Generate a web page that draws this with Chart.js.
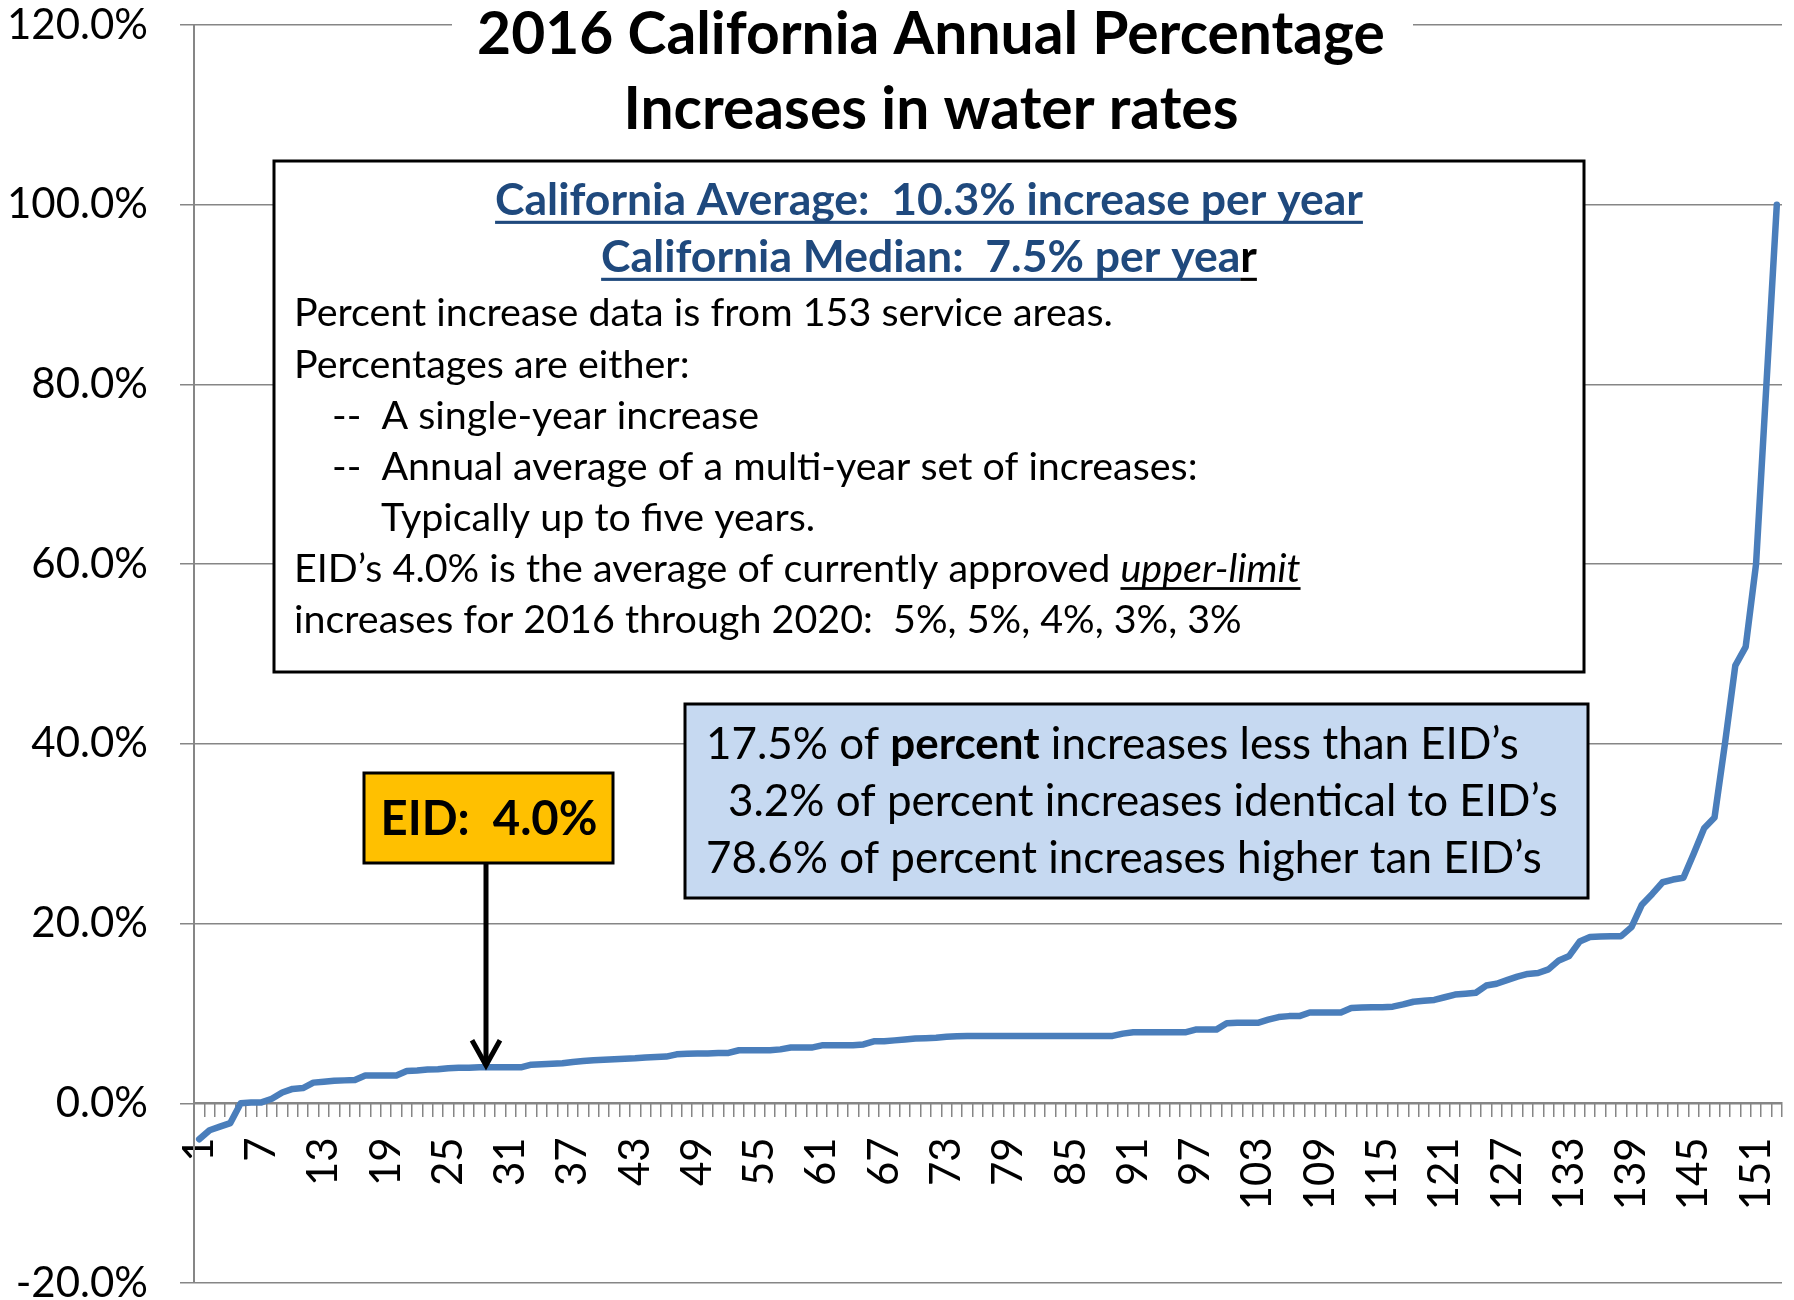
<!DOCTYPE html>
<html>
<head>
<meta charset="utf-8">
<title>2016 California Annual Percentage Increases in water rates</title>
<script src="https://cdn.jsdelivr.net/npm/chart.js@4.4.1/dist/chart.umd.min.js"></script>
<style>
  html, body { margin: 0; padding: 0; background: #fff; }
  #chart { display: block; }
</style>
</head>
<body>
<canvas id="chart" width="1794" height="1300"></canvas>
<script>
const FONT = 'Lato, "Open Sans", sans-serif';

// service areas 1..153, sorted by annual increase (percent)
const categories = [];
for (let i = 1; i <= 153; i++) categories.push(String(i));

const tickLabels = ['1', '7', '13', '19', '25', '31', '37', '43', '49', '55', '61', '67', '73', '79',
  '85', '91', '97', '103', '109', '115', '121', '127', '133', '139', '145', '151'];

const yTicks = [-20, 0, 20, 40, 60, 80, 100, 120];

const increases = [
  -4.0, -3.0, -2.6, -2.2, 0.0, 0.1, 0.1, 0.5, 1.2, 1.6,
  1.7, 2.3, 2.4, 2.5, 2.55, 2.6, 3.1, 3.1, 3.1, 3.1,
  3.6, 3.65, 3.75, 3.8, 3.9, 3.95, 3.95, 4.0, 4.0, 4.0,
  4.0, 4.0, 4.3, 4.35, 4.4, 4.45, 4.6, 4.7, 4.8, 4.85,
  4.9, 4.95, 5.0, 5.1, 5.15, 5.2, 5.45, 5.5, 5.55, 5.55,
  5.6, 5.6, 5.9, 5.9, 5.9, 5.9, 6.0, 6.2, 6.2, 6.2,
  6.45, 6.45, 6.45, 6.45, 6.55, 6.9, 6.9, 7.0, 7.1, 7.2,
  7.25, 7.3, 7.4, 7.45, 7.5, 7.5, 7.5, 7.5, 7.5, 7.5,
  7.5, 7.5, 7.5, 7.5, 7.5, 7.5, 7.5, 7.5, 7.5, 7.75,
  7.9, 7.9, 7.9, 7.9, 7.9, 7.9, 8.2, 8.2, 8.2, 8.9,
  8.95, 8.95, 8.95, 9.3, 9.6, 9.7, 9.7, 10.1, 10.1, 10.1,
  10.1, 10.6, 10.65, 10.7, 10.7, 10.75, 11.0, 11.3, 11.4, 11.5,
  11.8, 12.1, 12.2, 12.3, 13.1, 13.3, 13.7, 14.1, 14.4, 14.5,
  14.9, 15.9, 16.4, 18.0, 18.5, 18.55, 18.6, 18.6, 19.6, 22.1,
  23.3, 24.6, 24.9, 25.1, 27.8, 30.6, 31.8, 40.0, 48.7, 50.8,
  60.0, 80.0, 100.0
];

const eidValue = 4.0;

// font size so that text gets the wanted width
function fitSize(ctx, text, style, target) {
  ctx.font = style + ' 100px ' + FONT;
  return 100 * target / ctx.measureText(text).width;
}

// draws pieces [text, style, color, underline] one after another
function drawRun(ctx, pieces, x, y, size) {
  pieces.forEach(p => {
    ctx.font = p[1] + ' ' + size + 'px ' + FONT;
    ctx.fillStyle = p[2];
    ctx.fillText(p[0], x, y);
    const w = ctx.measureText(p[0]).width;
    if (p[3]) {
      ctx.fillStyle = p[3];
      ctx.fillRect(x, y + size * 0.13, w, Math.max(2, size * 0.07));
    }
    x += w;
  });
  return x;
}

function runWidth(ctx, pieces, size) {
  let w = 0;
  pieces.forEach(p => {
    ctx.font = p[1] + ' ' + size + 'px ' + FONT;
    w += ctx.measureText(p[0]).width;
  });
  return w;
}

const annotations = {
  id: 'annotations',
  afterDraw(chart) {
    const ctx = chart.ctx;
    const y = chart.scales.y;
    ctx.save();
    ctx.textBaseline = 'alphabetic';
    ctx.textAlign = 'left';

    // title with white background over the top gridline
    ctx.fillStyle = '#fff';
    ctx.fillRect(452, 4, 961, 142);
    const t1 = '2016 California Annual Percentage';
    const t2 = 'Increases in water rates';
    const ts = fitSize(ctx, t1, 'bold', 908);
    ctx.font = 'bold ' + ts + 'px ' + FONT;
    ctx.fillStyle = '#000';
    ctx.textAlign = 'center';
    ctx.fillText(t1, 931, 54);
    ctx.fillText(t2, 931, 129);
    ctx.textAlign = 'left';

    // main note box
    ctx.fillStyle = '#fff';
    ctx.fillRect(274, 161, 1310, 511);
    ctx.lineWidth = 3;
    ctx.strokeStyle = '#000';
    ctx.strokeRect(274, 161, 1310, 511);

    const blue = '#1F497D';
    const head1 = [['California Average:  10.3% increase per year', 'bold', blue, blue]];
    const head2 = [['California Median:  7.5% per yea', 'bold', blue, blue], ['r', 'bold', '#000', '#000']];
    const hs = fitSize(ctx, head1[0][0], 'bold', 868);
    drawRun(ctx, head1, 929 - runWidth(ctx, head1, hs) / 2, 215, hs);
    drawRun(ctx, head2, 929 - runWidth(ctx, head2, hs) / 2, 272, hs);

    const bs = fitSize(ctx, 'Percent increase data is from 153 service areas.', 'normal', 819);
    const body = [
      [294, 326, [['Percent increase data is from 153 service areas.', 'normal', '#000']]],
      [294, 378, [['Percentages are either:', 'normal', '#000']]],
      [332, 429, [['--  A single-year increase', 'normal', '#000']]],
      [332, 480, [['--  Annual average of a multi-year set of increases:', 'normal', '#000']]],
      [381, 531, [['Typically up to five years.', 'normal', '#000']]],
      [294, 582, [['EID’s 4.0% is the average of currently approved ', 'normal', '#000'],
                  ['upper-limit', 'italic', '#000', '#000']]],
      [294, 633, [['increases for 2016 through 2020:  5%, 5%, 4%, 3%, 3%', 'normal', '#000']]]
    ];
    body.forEach(l => drawRun(ctx, l[2], l[0], l[1], bs));

    // comparison box
    ctx.fillStyle = '#C6D9F1';
    ctx.fillRect(685, 704, 903, 194);
    ctx.strokeRect(685, 704, 903, 194);
    const cs = fitSize(ctx, '78.6% of percent increases higher tan EID’s', 'normal', 836);
    drawRun(ctx, [['17.5% of ', 'normal', '#000'], ['percent', 'bold', '#000'],
      [' increases less than EID’s', 'normal', '#000']], 706, 759, cs);
    drawRun(ctx, [['3.2% of percent increases identical to EID’s', 'normal', '#000']], 728, 816, cs);
    drawRun(ctx, [['78.6% of percent increases higher tan EID’s', 'normal', '#000']], 706, 873, cs);

    // EID label and arrow
    ctx.fillStyle = '#FFC000';
    ctx.fillRect(364, 773, 249, 90);
    ctx.strokeRect(364, 773, 249, 90);
    const es = fitSize(ctx, 'EID:  4.0%', 'bold', 217);
    ctx.font = 'bold ' + es + 'px ' + FONT;
    ctx.fillStyle = '#000';
    ctx.textAlign = 'center';
    ctx.fillText('EID:  4.0%', 489, 835);

    const ax = 486;
    const tip = y.getPixelForValue(eidValue) - 2;
    ctx.lineWidth = 5;
    ctx.lineCap = 'butt';
    ctx.beginPath();
    ctx.moveTo(ax, 864);
    ctx.lineTo(ax, tip);
    ctx.stroke();
    ctx.beginPath();
    ctx.moveTo(ax - 14, tip - 25);
    ctx.lineTo(ax, tip);
    ctx.lineTo(ax + 14, tip - 25);
    ctx.stroke();
    ctx.restore();
  }
};

const ctx = document.getElementById('chart').getContext('2d');
new Chart(ctx, {
  type: 'line',
  data: {
    labels: categories,
    datasets: [{
      data: increases,
      borderColor: '#4A7EBB',
      borderWidth: 6.5,
      pointRadius: 0,
      tension: 0,
      borderCapStyle: 'round',
      borderJoinStyle: 'round',
      clip: false
    }]
  },
  options: {
    responsive: false,
    animation: false,
    devicePixelRatio: 1,
    layout: { padding: { top: 25, right: 12, bottom: 17, left: 0 } },
    plugins: {
      legend: { display: false },
      tooltip: { enabled: false },
      title: { display: false }
    },
    scales: {
      x: {
        type: 'category',
        offset: true,
        position: { y: 0 },
        afterFit: function (scale) {
          scale.paddingLeft = 0;
          scale.paddingRight = 0;
          scale.paddingTop = 0;
          scale.paddingBottom = 0;
        },
        grid: {
          offset: true,
          drawOnChartArea: false,
          tickLength: 13,
          color: '#868686',
          lineWidth: 1.5
        },
        border: { color: '#868686', width: 2 },
        ticks: {
          autoSkip: false,
          minRotation: 90,
          maxRotation: 90,
          padding: 21,
          color: '#000',
          font: { family: FONT, size: 42 },
          callback: function (value, index) {
            const label = categories[index];
            return tickLabels.includes(label) ? label : '';
          }
        }
      },
      y: {
        min: -20,
        max: 120,
        afterFit: function (scale) {
          scale.width = 194;
          scale.paddingTop = 0;
          scale.paddingBottom = 0;
        },
        afterBuildTicks: function (scale) {
          scale.ticks = yTicks.map(v => ({ value: v }));
        },
        grid: {
          color: '#868686',
          lineWidth: 1.5,
          tickLength: 14
        },
        border: { color: '#868686', width: 2 },
        ticks: {
          padding: 32,
          color: '#000',
          font: { family: FONT, size: 42 },
          callback: function (value) { return value.toFixed(1) + '%'; }
        }
      }
    }
  },
  plugins: [annotations]
});
</script>
</body>
</html>
